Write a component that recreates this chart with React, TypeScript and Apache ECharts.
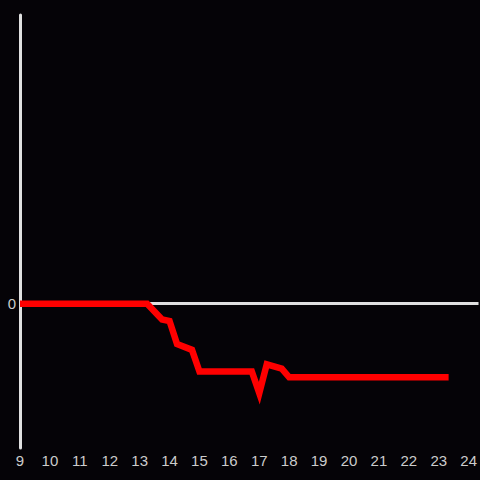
import React, { useEffect, useRef } from "react";
import * as echarts from "echarts";

const xValues = [9, 13.25, 13.75, 14, 14.25, 14.75, 15, 16.75, 17, 17.25, 17.75, 18, 23.33];
const yValues = [0, 0, -0.11, -0.12, -0.28, -0.32, -0.47, -0.47, -0.62, -0.42, -0.45, -0.51, -0.51];

export default function App() {
  const ref = useRef<HTMLDivElement>(null);
  useEffect(() => {
    if (!ref.current) return;
    const chart = echarts.init(ref.current, null, { renderer: "svg" });
    chart.setOption({
      animation: false,
      backgroundColor: "#050307",
      grid: { left: 20, right: 0, top: 15, bottom: 32, containLabel: false },
      xAxis: {
        type: "value",
        min: 9,
        max: 24.33,
        interval: 1,
        axisLine: { show: false },
        axisTick: { show: false },
        splitLine: { show: false },
        axisLabel: {
          color: "#cccccc",
          fontSize: 15,
          fontFamily: "Liberation Sans, Arial, sans-serif",
          margin: 5,
          showMaxLabel: false,
        },
      },
      yAxis: {
        type: "value",
        min: -1,
        max: 2,
        interval: 1,
        axisLine: { show: true, onZero: false, lineStyle: { color: "#e0e0e0", width: 3 } },
        axisTick: { show: false },
        splitLine: { show: false },
        axisLabel: {
          color: "#cccccc",
          fontSize: 15,
          fontFamily: "Liberation Sans, Arial, sans-serif",
          margin: 4,
          formatter: (v: number) => (v === 0 ? "0" : ""),
        },
      },
      series: [
        {
          type: "line",
          data: xValues.map((x, i) => [x, yValues[i]]),
          showSymbol: false,
          symbol: "none",
          lineStyle: { color: "#ff0000", width: 6.5, cap: "butt", join: "miter" },
          markLine: {
            silent: true,
            symbol: "none",
            label: { show: false },
            lineStyle: { color: "#e0e0e0", width: 3, type: "solid" },
            data: [{ yAxis: 0 }],
            z: 1,
          },
          z: 3,
        },
      ],
    });
    return () => chart.dispose();
  }, []);
  return (
    <div
      ref={ref}
      style={{ width: 480, height: 480, position: "absolute", left: 0, top: 0 }}
    />
  );
}
